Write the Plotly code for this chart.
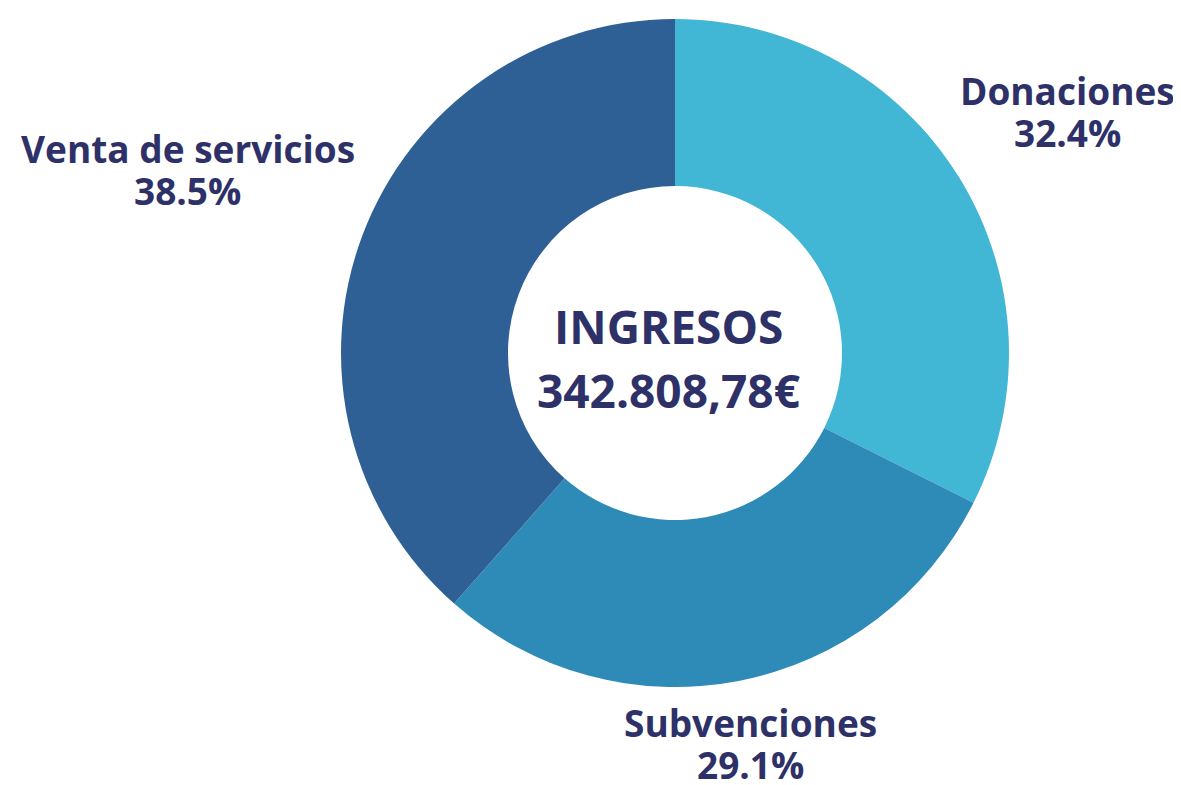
import math

import plotly.graph_objects as go

############################################################
# DATA
############################################################

labels = ["Donaciones", "Subvenciones", "Venta de servicios"]

shares = [32.4, 29.1, 38.5]

colors = ["#42b6d5", "#2e8bb8", "#2e6096"]

center_title = "INGRESOS"

center_total = "342.808,78€"

############################################################
# STYLE
############################################################

TEXT_COLOR = "#2e3168"

FONT = "Open Sans"

# the page body adds an 8px margin, so the figure is 8px smaller
WIDTH, HEIGHT = 1173, 777

MARGIN = dict(l=333, r=172, t=11, b=98)

# distance of each label centre from the pie centre, in pie radii
label_dist = [1.38, 1.19, 1.56]

LINE_GAP = 42


############################################################
# DONUT
############################################################

fig = go.Figure(

    go.Pie(

        labels=labels,

        values=shares,

        hole=0.5,

        sort=False,

        direction="clockwise",

        rotation=0,

        marker=dict(colors=colors, line=dict(width=0)),

        textinfo="none",

        showlegend=False,

        hoverinfo="label+percent"

    )

)


############################################################
# LABELS (placed on each slice's mid-angle)
############################################################

plot_w = WIDTH - MARGIN["l"] - MARGIN["r"]

plot_h = HEIGHT - MARGIN["t"] - MARGIN["b"]

radius_px = min(plot_w, plot_h) / 2

total = sum(shares)

start = 0.0

for label, share, dist in zip(labels, shares, label_dist):

    mid = (start + share / 2) / total * 2 * math.pi

    start += share

    x = 0.5 + dist * radius_px * math.sin(mid) / plot_w

    y = 0.5 + dist * radius_px * math.cos(mid) / plot_h

    pct = f"{share / total * 100:.1f}%"

    for line, shift in [(label, LINE_GAP / 2), (pct, -LINE_GAP / 2)]:

        fig.add_annotation(

            text=f"<b>{line}</b>",

            x=x,

            y=y,

            yshift=shift,

            xref="paper",

            yref="paper",

            xanchor="center",

            yanchor="middle",

            height=LINE_GAP,

            borderpad=0,

            showarrow=False,

            font=dict(family=FONT, size=37, color=TEXT_COLOR)

        )


############################################################
# CENTRE TEXT
############################################################

for line, shift in [(center_title, 27), (center_total, -37)]:

    fig.add_annotation(

        text=f"<b>{line}</b>",

        x=0.5,

        y=0.5,

        xshift=-7,

        yshift=shift,

        xref="paper",

        yref="paper",

        xanchor="center",

        yanchor="middle",

        height=60,

        borderpad=0,

        showarrow=False,

        font=dict(family=FONT, size=46, color=TEXT_COLOR)

    )

fig.update_layout(

    width=WIDTH,

    height=HEIGHT,

    margin=MARGIN,

    paper_bgcolor="white",

    plot_bgcolor="white"

)

fig.write_html("out.html")
